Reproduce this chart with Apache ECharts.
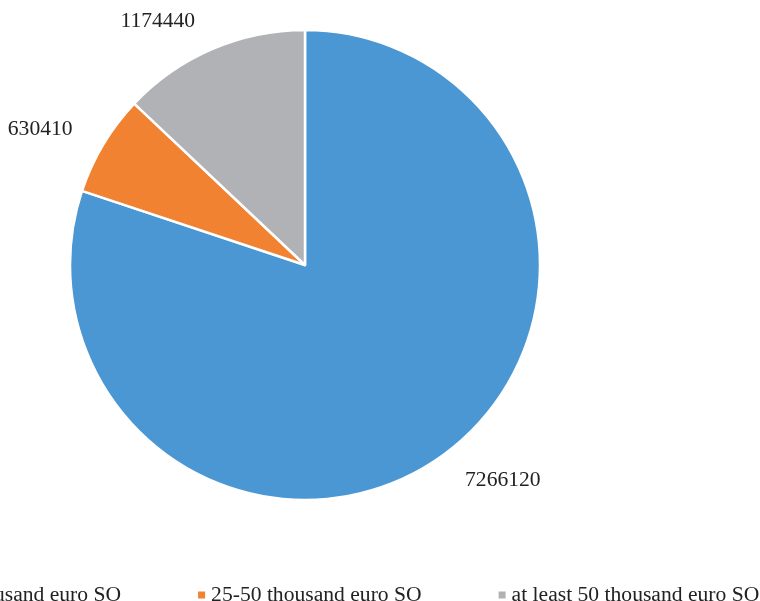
<!DOCTYPE html>
<html>
<head>
<meta charset="utf-8">
<script src="https://cdn.jsdelivr.net/npm/echarts@6/dist/echarts.min.js"></script>
<style>
  html, body { margin: 0; padding: 0; background: #fff; }
  #main { width: 760px; height: 601px; }
</style>
</head>
<body>
<div id="main"></div>
<script>
// data
var categories = ['less than 25 thousand euro SO', '25-50 thousand euro SO', 'at least 50 thousand euro SO'];
var values = [7266120, 630410, 1174440];
var colors = ['#4b97d3', '#f18232', '#b1b2b6'];

var myChart = echarts.init(document.getElementById('main'));

var pieData = categories.map(function (name, i) {
  return { name: name, value: values[i], itemStyle: { color: colors[i] } };
});

var option = {
  animation: false,
  textStyle: { fontFamily: 'Liberation Serif' },
  legend: {
    data: categories,
    left: -161,
    top: 579,
    width: 1000,
    itemWidth: 9,
    itemHeight: 9,
    itemGap: 75,
    icon: 'rect',
    textStyle: { fontFamily: 'Liberation Serif', fontSize: 21.6, color: '#222' }
  },
  series: [{
    type: 'pie',
    center: [305, 265],
    radius: 235,
    startAngle: 90,
    clockwise: true,
    avoidLabelOverlap: false,
    data: pieData,
    itemStyle: { borderColor: '#fff', borderWidth: 2.5 },
    label: {
      show: true,
      position: 'outside',
      formatter: '{c}',
      fontFamily: 'Liberation Serif',
      fontSize: 21.6,
      color: '#222'
    },
    labelLine: { show: false, length: 30, length2: 0 },
    emphasis: { disabled: true }
  }]
};

myChart.setOption(option);
window.onresize = function () {
  myChart.resize();
};
</script>
</body>
</html>
